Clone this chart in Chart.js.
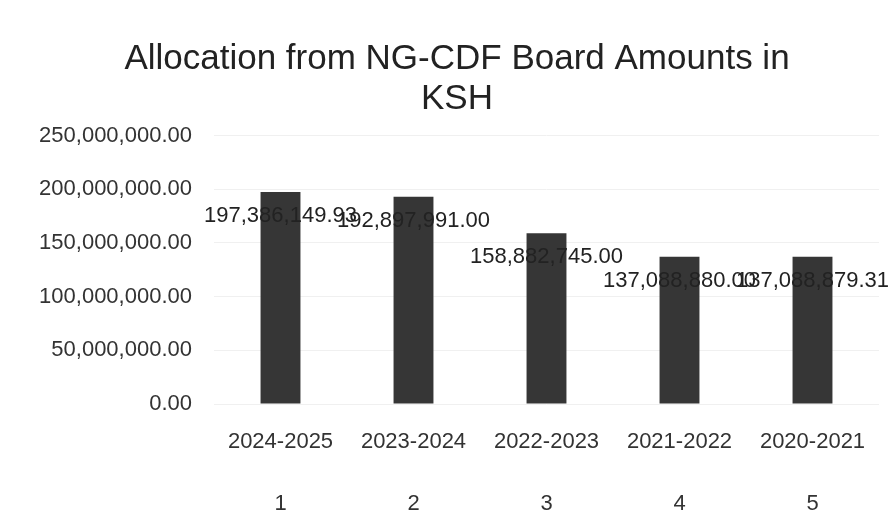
<!DOCTYPE html>
<html lang="en">
<head>
  <meta charset="UTF-8">
  <title>Allocation from NG-CDF Board</title>
  <script src="https://cdn.jsdelivr.net/npm/chart.js"></script>
  <style>
    body { margin: 0; background: #fff; }
    canvas { display: block; }
  </style>
</head>
<body>
  <canvas id="allocChart" width="893" height="511"></canvas>
  <script>
    const years = ['2024-2025', '2023-2024', '2022-2023', '2021-2022', '2020-2021'];
    const indexLabels = ['1', '2', '3', '4', '5'];
    const amounts = [197386149.93, 192897991.00, 158882745.00, 137088880.00, 137088879.31];

    const fmt = v => v.toLocaleString('en-US', { minimumFractionDigits: 2, maximumFractionDigits: 2 });
    const FONT = "'Liberation Sans', Arial, sans-serif";

    // value labels sit a bit below each bar top, like the original export
    const valueLabels = {
      id: 'valueLabels',
      afterDatasetsDraw(chart) {
        const { ctx } = chart;
        const meta = chart.getDatasetMeta(0);
        ctx.save();
        ctx.font = `22px ${FONT}`;
        ctx.fillStyle = '#222';
        ctx.textAlign = 'center';
        ctx.textBaseline = 'middle';
        meta.data.forEach((bar, i) => {
          ctx.fillText(fmt(amounts[i]), bar.x, bar.y + 24);
        });
        ctx.restore();
      }
    };

    new Chart(document.getElementById('allocChart'), {
      type: 'bar',
      data: {
        // year on top, index number far below (blank lines keep the gap)
        labels: years.map((y, i) => [y, '', '', '', indexLabels[i]]),
        datasets: [{
          data: amounts,
          backgroundColor: '#363636',
          barPercentage: 0.3,
          categoryPercentage: 1
        }]
      },
      options: {
        responsive: false,
        animation: false,
        layout: { padding: { left: 35, right: 14, top: 0, bottom: 0 } },
        plugins: {
          legend: { display: false },
          tooltip: { enabled: false },
          title: {
            display: true,
            text: ['Allocation from NG-CDF Board Amounts in', 'KSH'],
            color: '#222',
            font: { family: FONT, size: 35, weight: 'normal', lineHeight: 1.15 },
            padding: { top: 39, bottom: 16 }
          }
        },
        scales: {
          x: {
            grid: { display: false },
            border: { display: false },
            afterFit: s => { s.height = 107; },
            ticks: {
              color: '#333',
              maxRotation: 0,
              padding: 22,
              font: { family: FONT, size: 22, lineHeight: 0.705 }
            }
          },
          y: {
            min: 0,
            max: 250000000,
            border: { display: false },
            grid: { color: '#f0f0f0', drawTicks: false },
            afterFit: s => { s.width = 179; },
            ticks: {
              stepSize: 50000000,
              color: '#333',
              padding: 22,
              font: { family: FONT, size: 22 },
              callback: v => fmt(v)
            }
          }
        }
      },
      plugins: [valueLabels]
    });
  </script>
</body>
</html>
